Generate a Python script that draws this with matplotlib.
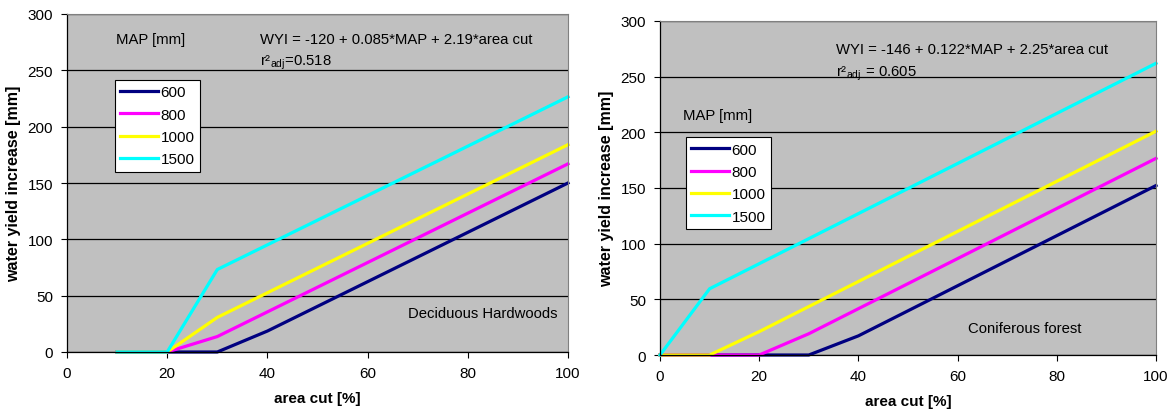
import numpy as np
import matplotlib
matplotlib.use("Agg")
import matplotlib.pyplot as plt

plt.rcParams['font.family'] = ['Liberation Sans', 'DejaVu Sans']

# MAP classes and colours
map_labels = ['600', '800', '1000', '1500']
colors = ['#000080', '#FF00FF', '#FFFF00', '#00FFFF']

# Deciduous hardwoods (left panel)
x_dec = [10, 20, 30, 40, 50, 60, 70, 80, 90, 100]
dec_600 = [0, 0, 0, 18.6, 40.5, 62.4, 84.3, 106.2, 128.1, 150.0]
dec_800 = [0, 0, 13.7, 35.6, 57.5, 79.4, 101.3, 123.2, 145.1, 167.0]
dec_1000 = [0, 0, 30.7, 52.6, 74.5, 96.4, 118.3, 140.2, 162.1, 184.0]
dec_1500 = [0, 0, 73.2, 95.1, 117.0, 138.9, 160.8, 182.7, 204.6, 226.5]

# Coniferous forest (right panel)
x_con = [0, 10, 20, 30, 40, 50, 60, 70, 80, 90, 100]
con_600 = [0, 0, 0, 0, 17.2, 39.7, 62.2, 84.7, 107.2, 129.7, 152.2]
con_800 = [0, 0, 0, 19.1, 41.6, 64.1, 86.6, 109.1, 131.6, 154.1, 176.6]
con_1000 = [0, 0, 21.0, 43.5, 66.0, 88.5, 111.0, 133.5, 156.0, 178.5, 201.0]
con_1500 = [0, 59.5, 82.0, 104.5, 127.0, 149.5, 172.0, 194.5, 217.0, 239.5, 262.0]

W, H = 1172, 414
fig = plt.figure(figsize=(W / 100, H / 100), dpi=100)


def make_axes(l, r, t, b):
    return fig.add_axes([l / W, 1 - b / H, (r - l) / W, (b - t) / H])


def style(ax):
    ax.set_facecolor('#C0C0C0')
    ax.set_xlim(0, 100)
    ax.set_ylim(0, 300)
    ax.set_xticks(range(0, 101, 20))
    ax.set_yticks(range(0, 301, 50))
    ax.yaxis.grid(True, color='black', linewidth=0.9)
    ax.set_axisbelow(True)
    for s in ['top', 'right']:
        ax.spines[s].set_color('#808080')
        ax.spines[s].set_linewidth(0.8)
    for s in ['left', 'bottom']:
        ax.spines[s].set_color('black')
        ax.spines[s].set_linewidth(0.9)
    ax.tick_params(direction='out', length=4, width=0.8, labelsize=11, pad=6)
    ax.set_xlabel('area cut [%]', fontsize=11, fontweight='bold', labelpad=8)
    ax.set_ylabel('water yield increase [mm]', fontsize=11.5, fontweight='bold', labelpad=5)


def add_legend(ax, anchor):
    leg = ax.legend(loc='upper left', bbox_to_anchor=anchor, fontsize=11,
                    frameon=True, fancybox=False, edgecolor='black', framealpha=1,
                    handlelength=2.5, handletextpad=0.15, borderpad=0.35,
                    labelspacing=0.55, borderaxespad=0)
    leg.get_frame().set_linewidth(0.8)
    return leg


ax1 = make_axes(67, 568, 15, 353)
style(ax1)
for ys, c, lab in zip([dec_600, dec_800, dec_1000, dec_1500], colors, map_labels):
    ax1.plot(x_dec, ys, color=c, linewidth=2.3, label=lab, clip_on=False)
add_legend(ax1, (0.095, 0.805))
ax1.text(0.098, 0.925, 'MAP [mm]', transform=ax1.transAxes, fontsize=10.7, va='center')
ax1.text(0.386, 0.925, 'WYI = -120 + 0.085*MAP + 2.19*area cut', transform=ax1.transAxes,
         fontsize=10.7, va='center')
ax1.text(0.386, 0.86, r'r²$_{\mathregular{adj}}$=0.518', transform=ax1.transAxes,
         fontsize=10.7, va='center')
ax1.text(0.98, 0.115, 'Deciduous Hardwoods', transform=ax1.transAxes, fontsize=10.7,
         ha='right', va='center')

ax2 = make_axes(660, 1156, 22, 356)
style(ax2)
for ys, c, lab in zip([con_600, con_800, con_1000, con_1500], colors, map_labels):
    ax2.plot(x_con, ys, color=c, linewidth=2.3, label=lab, clip_on=False)
add_legend(ax2, (0.052, 0.652))
ax2.text(0.047, 0.72, 'MAP [mm]', transform=ax2.transAxes, fontsize=10.7, va='center')
ax2.text(0.355, 0.915, 'WYI = -146 + 0.122*MAP + 2.25*area cut', transform=ax2.transAxes,
         fontsize=10.7, va='center')
ax2.text(0.355, 0.845, r'r²$_{\mathregular{adj.}}$= 0.605', transform=ax2.transAxes,
         fontsize=10.7, va='center')
ax2.text(0.85, 0.08, 'Coniferous forest', transform=ax2.transAxes, fontsize=10.7,
         ha='right', va='center')

fig.savefig('out.png', dpi=100, facecolor='white')
